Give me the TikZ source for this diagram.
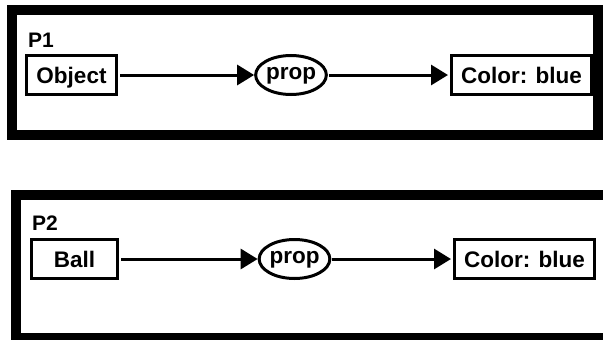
\documentclass[tikz,border=0pt]{standalone}
\usepackage{fontspec}
\setmainfont{Liberation Sans}
\usetikzlibrary{arrows.meta,shapes.geometric}
\begin{document}
\begin{tikzpicture}[x=1pt,y=-1pt,
  frame/.style={line width=10pt},
  txt/.style={font=\bfseries\fontsize{22.5}{24}\selectfont,text height=16pt,text depth=0pt},
  box/.style={draw,line width=3pt,rectangle,inner sep=0pt,minimum height=39pt,txt},
  propnode/.style={draw,line width=3pt,ellipse,inner sep=0pt,minimum width=65pt,minimum height=39pt,font=\bfseries\fontsize{22.5}{24}\selectfont,text height=12pt,text depth=4pt},
  conn/.style={line width=3pt,-{Triangle[length=17pt,width=20pt]}},
  lbl/.style={anchor=base west,inner sep=0pt,font=\bfseries\fontsize{21}{24}\selectfont}]
\useasboundingbox (0,0) rectangle (603,340);
\clip (0,0) rectangle (603,340);
\fill[white] (0,0) rectangle (603,340);
% top panel
\draw[frame] (11.5,10) rectangle (598,135);
\node[lbl] (p1) at (28,47) {P1};
\node[box,minimum width=90pt] (obj) at (71.5,75) {Object};
\node[propnode] (prop1) at (291,75) {prop};
\node[box,minimum width=140pt] (col1) at (521.5,75) {Color: blue};
\draw[conn,shorten <=2pt] (obj) -- (prop1);
\draw[conn,shorten <=1pt,shorten >=2pt] (prop1) -- (col1);
% bottom panel
\draw[frame] (16,194.5) rectangle (620,338);
\node[lbl] (p2) at (32,230) {P2};
\node[box,minimum width=86pt] (ball) at (74.5,259) {Ball};
\node[propnode,minimum width=66pt] (prop2) at (294.5,259) {prop};
\node[box,minimum width=140pt] (col2) at (524.5,259) {Color: blue};
\draw[conn,shorten <=2pt] (ball) -- (prop2);
\draw[conn,shorten <=1pt,shorten >=2pt] (prop2) -- (col2);
\end{tikzpicture}
\end{document}
